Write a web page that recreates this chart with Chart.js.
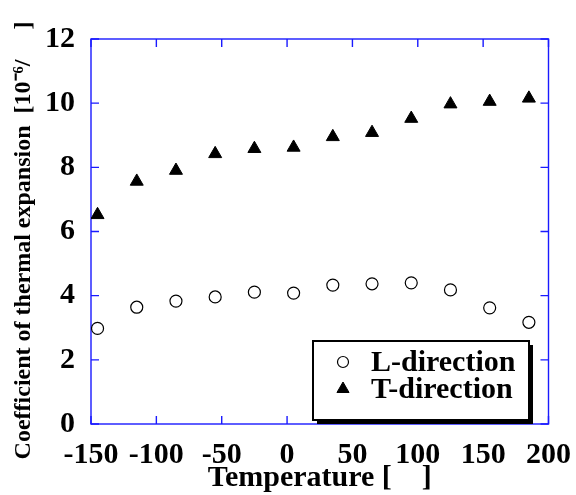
<!DOCTYPE html>
<html>
<head>
<meta charset="utf-8">
<script src="https://cdn.jsdelivr.net/npm/chart.js@4/dist/chart.umd.min.js"></script>
<style>
html,body{margin:0;padding:0;background:#fff;}
canvas{display:block;}
</style>
</head>
<body>
<canvas id="c" width="576" height="495"></canvas>
<script>
// ---- data ----
const temperatures = [-145, -115, -85, -55, -25, 5, 35, 65, 95, 125, 155, 185];
const lDirection = [2.98, 3.64, 3.83, 3.96, 4.11, 4.08, 4.33, 4.37, 4.40, 4.18, 3.62, 3.17];
const tDirection = [6.52, 7.56, 7.90, 8.42, 8.58, 8.62, 8.95, 9.08, 9.52, 9.97, 10.05, 10.15];
const seriesLabels = ['L-direction', 'T-direction'];
const xTitle = 'Temperature [    ]';
const yTitle = 'Coefficient of thermal expansion  [10\u207B\u2076/     ]   ';

const FONT = '"Liberation Serif", "Times New Roman", serif';
const AXIS_COLOR = '#1a1aff';

const toPoints = (xs, ys) => xs.map((x, i) => ({x: x, y: ys[i]}));

const framePlugin = {
  id: 'frame',
  beforeDatasetsDraw(chart) {
    const {ctx, chartArea: a, scales: {x, y}} = chart;
    ctx.save();
    ctx.strokeStyle = AXIS_COLOR;
    ctx.lineWidth = 1.4;
    ctx.strokeRect(a.left, a.top, a.right - a.left, a.bottom - a.top);
    const L = 8;
    ctx.beginPath();
    x.ticks.forEach(t => {
      const px = x.getPixelForValue(t.value);
      ctx.moveTo(px, a.bottom); ctx.lineTo(px, a.bottom - L);
      ctx.moveTo(px, a.top); ctx.lineTo(px, a.top + L);
    });
    y.ticks.forEach(t => {
      const py = y.getPixelForValue(t.value);
      ctx.moveTo(a.left, py); ctx.lineTo(a.left + L, py);
      ctx.moveTo(a.right, py); ctx.lineTo(a.right - L, py);
    });
    ctx.stroke();
    ctx.restore();
  }
};

const legendPlugin = {
  id: 'boxLegend',
  afterDraw(chart) {
    const ctx = chart.ctx;
    const bx = 313, by = 341, bw = 216, bh = 79, sh = 4;
    ctx.save();
    ctx.fillStyle = '#000';
    ctx.fillRect(bx + sh, by + sh, bw, bh);
    ctx.fillStyle = '#fff';
    ctx.fillRect(bx, by, bw, bh);
    ctx.strokeStyle = '#000';
    ctx.lineWidth = 2;
    ctx.strokeRect(bx, by, bw, bh);
    chart.data.datasets.forEach((ds, i) => {
      const cy = by + 21 + i * 27;
      ctx.fillStyle = ds.pointBackgroundColor;
      ctx.strokeStyle = ds.pointBorderColor;
      ctx.lineWidth = ds.pointBorderWidth;
      Chart.helpers.drawPoint(ctx, {pointStyle: ds.pointStyle, radius: ds.pointRadius - 0.5, borderWidth: ds.pointBorderWidth, rotation: 0}, bx + 30, cy);
      ctx.fillStyle = '#000';
      ctx.font = 'bold 30px ' + FONT;
      ctx.textBaseline = 'middle';
      ctx.textAlign = 'left';
      ctx.fillText(ds.label, bx + 58, cy + 1);
    });
    ctx.restore();
  }
};

new Chart(document.getElementById('c'), {
  type: 'scatter',
  data: {
    datasets: [
      {
        label: seriesLabels[0],
        data: toPoints(temperatures, lDirection),
        pointStyle: 'circle',
        pointRadius: 6,
        pointBackgroundColor: '#fff',
        pointBorderColor: '#000',
        pointBorderWidth: 1.2,
        showLine: false
      },
      {
        label: seriesLabels[1],
        data: toPoints(temperatures, tDirection),
        pointStyle: 'triangle',
        pointRadius: 7.5,
        pointBackgroundColor: '#000',
        pointBorderColor: '#000',
        pointBorderWidth: 1,
        showLine: false
      }
    ]
  },
  options: {
    responsive: false,
    animation: false,
    layout: {padding: {top: 39, right: 25, bottom: 0, left: 0}},
    plugins: {legend: {display: false}, tooltip: {enabled: false}},
    scales: {
      x: {
        type: 'linear', min: -150, max: 200,
        grid: {display: false},
        border: {display: false},
        ticks: {stepSize: 50, color: '#000', padding: 5, maxRotation: 0,
          font: {family: FONT, size: 30, weight: 'bold'}},
        title: {display: true, text: xTitle, color: '#000', padding: {top: 0, bottom: 2},
          font: {family: FONT, size: 30, weight: 'bold', lineHeight: 1.0}},
        afterFit(s) { s.height = 71; }
      },
      y: {
        type: 'linear', min: 0, max: 12,
        grid: {display: false},
        border: {display: false},
        ticks: {stepSize: 2, color: '#000', padding: 8,
          font: {family: FONT, size: 30, weight: 'bold'}},
        title: {display: true, text: yTitle, color: '#000', padding: {top: 12, bottom: 0},
          font: {family: FONT, size: 24, weight: 'bold', lineHeight: 1.0}},
        afterFit(s) { s.width = 91; }
      }
    }
  },
  plugins: [framePlugin, legendPlugin]
});
</script>
</body>
</html>
